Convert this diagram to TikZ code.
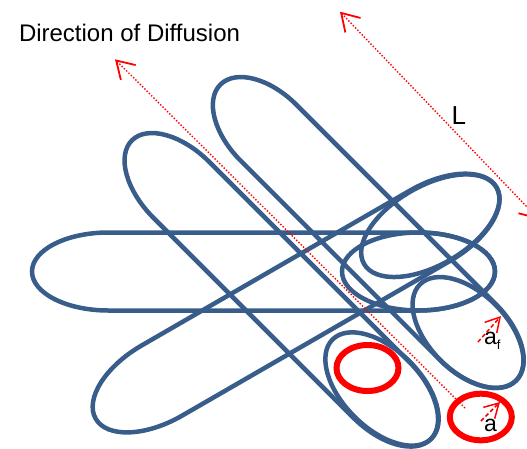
\documentclass[tikz,border=0pt]{standalone}
\usepackage{fontspec}
\setmainfont{Liberation Sans}
\usepackage{tikz}
\usetikzlibrary{arrows.meta}
\definecolor{fibreblue}{HTML}{385D8A}

\begin{document}
\begin{tikzpicture}[x=1pt,y=-1pt,
  fibre/.style={draw=fibreblue, line width=4.5pt},
  spot/.style={draw=red, line width=6pt},
  dimline/.style={red, line width=1.4pt, dash pattern=on 1.4pt off 1.8pt},
  vecline/.style={red, line width=1.5pt, dash pattern=on 4pt off 2.5pt},
  dimtip/.tip={Straight Barb[length=17pt,width=21pt,line width=1.8pt]},
  vectip/.tip={Straight Barb[length=14pt,width=16pt,line width=1.5pt]},
  lbl/.style={inner sep=0pt, anchor=base west}]
\useasboundingbox (0,0) rectangle (527,448);
\begin{scope}
\clip (0,0) rectangle (527,448);
\foreach \cx/\cy/\ang/\h/\c/\t in {263.5/271.5/0/231.5/76.5/39, 296.1/303.05/30/231.4/76.5/40.5, 368.3/232.5/-45/209.2/68/39.5, 281.3/289.8/-45/211.3/70/39.5} {
  \draw[fibre, shift={(\cx,\cy)}, rotate=\ang] (-\h+\c,-\t) -- (\h-\c,-\t)
    arc[start angle=-90, end angle=90, x radius=\c, y radius=\t] -- (-\h+\c,\t)
    arc[start angle=90, end angle=270, x radius=\c, y radius=\t] -- cycle;
}
\foreach \cx/\cy/\ang/\a/\b in {418.5/271.5/0/76.5/39, 430.3/225.7/30/76.5/39.5, 468/332.5/-45/68/39, 382/389/-45/70/39} {
  \draw[fibre, shift={(\cx,\cy)}, rotate=\ang] (0,0) circle[x radius=\a, y radius=\b];
}
\draw[spot] (367.5,368) circle[x radius=31, y radius=23];
\draw[spot] (480.8,417) circle[x radius=31, y radius=23.3];

\coordinate (diffTail) at (465,408);
\coordinate (diffTip) at (115,59.3);
\coordinate (lenTop) at (340,11.7);
\coordinate (lenBot) at (539,219.5);
\draw[dimline, -dimtip] (diffTail) -- (diffTip);
\draw[dimline, dimtip-dimtip] (lenTop) -- (lenBot);

\node[lbl, font=\fontsize{24}{28}\selectfont] (diffLbl) at (18.8,41.7) {Direction of Diffusion};
\node[lbl, font=\fontsize{26}{30}\selectfont] (lenLbl) at (451.4,124) {L};
\node[lbl, font=\fontsize{23}{27}\selectfont] (afLbl) at (484,344) {a\raisebox{-5pt}{\fontsize{13}{15}\selectfont f}};
\node[lbl, font=\fontsize{23}{27}\selectfont] (aLbl) at (484,431.7) {a};

\coordinate (afTail) at (478,342);
\coordinate (afTip) at (501,316);
\coordinate (aTail) at (481,421);
\coordinate (aTip) at (500,402);
\draw[vecline, -vectip] (afTail) -- (afTip);
\draw[vecline, -vectip] (aTail) -- (aTip);
\end{scope}
\end{tikzpicture}
\end{document}
